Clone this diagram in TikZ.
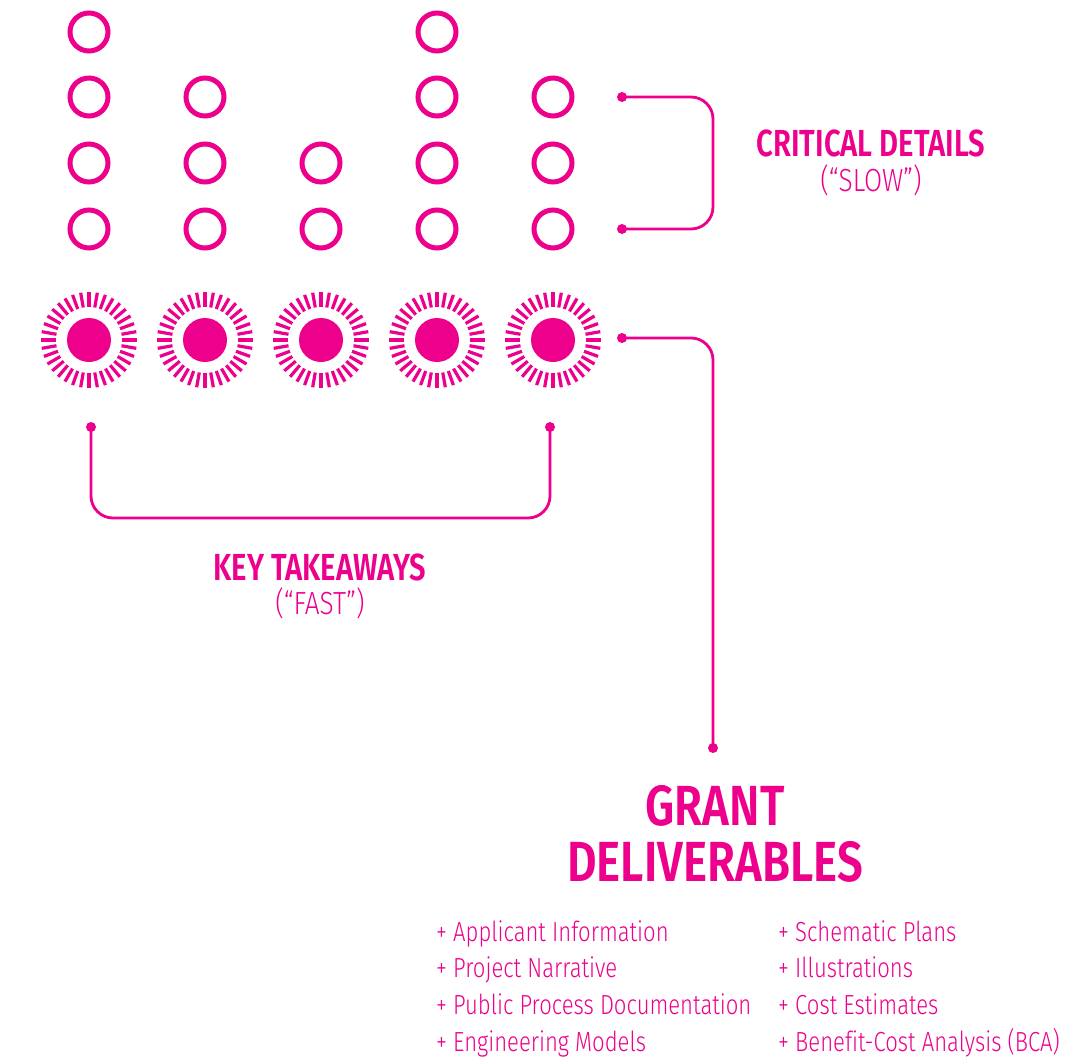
\documentclass[tikz,border=0pt]{standalone}
\usepackage{fontspec}
\setmainfont{Fira Sans}
\newfontfamily\headfont{Fira Sans SemiBold}[FakeStretch=0.775]
\newfontfamily\bigfont{Fira Sans SemiBold}[FakeStretch=0.805]
\newfontfamily\subfont{Fira Sans Light}[FakeStretch=0.82]
\newfontfamily\lightfont{Fira Sans Light}[FakeStretch=0.80,Ligatures=NoCommon]
\definecolor{mag}{HTML}{EC008C}
\begin{document}
\begin{tikzpicture}[x=1pt,y=-1pt,
  ring/.style={circle,draw=mag,line width=5pt,minimum size=38pt,inner sep=0pt},
  core/.style={circle,fill=mag,minimum size=44pt,inner sep=0pt},
  ray/.style={draw=mag,line width=3.2pt},
  dotn/.style={circle,fill=mag,minimum size=10pt,inner sep=0pt},
  conn/.style={draw=mag,line width=2.8pt,rounded corners=22pt},
  head/.style={text=mag,inner sep=0pt,anchor=base,font=\headfont\fontsize{37.7}{40}\selectfont},
  sub/.style={text=mag,inner sep=0pt,anchor=base,font=\subfont\fontsize{32}{34}\selectfont},
  big/.style={text=mag,inner sep=0pt,anchor=base,font=\bigfont\fontsize{56.6}{60}\selectfont},
  item/.style={text=mag,inner sep=0pt,anchor=base west,font=\lightfont\fontsize{27.6}{30}\selectfont}]
\useasboundingbox (0,0) rectangle (1070,1062);
% outline circles
\node[ring] (r11) at (89,32) {};
\node[ring] (r12) at (89,97) {};
\node[ring] (r13) at (89,163) {};
\node[ring] (r14) at (89,229) {};
\node[ring] (r22) at (205,97) {};
\node[ring] (r23) at (205,163) {};
\node[ring] (r24) at (205,229) {};
\node[ring] (r33) at (321,163) {};
\node[ring] (r34) at (321,229) {};
\node[ring] (r41) at (437,32) {};
\node[ring] (r42) at (437,97) {};
\node[ring] (r43) at (437,163) {};
\node[ring] (r44) at (437,229) {};
\node[ring] (r52) at (553,97) {};
\node[ring] (r53) at (553,163) {};
\node[ring] (r54) at (553,229) {};
% suns
\node[core] (s1) at (89,340) {};
\node[core] (s2) at (205,340) {};
\node[core] (s3) at (321,340) {};
\node[core] (s4) at (437,340) {};
\node[core] (s5) at (553,340) {};
\foreach \s in {s1,s2,s3,s4,s5}
  \foreach \a in {0,10,...,350}
    \draw[ray] (\s) ++(\a:33) -- ++(\a:15);
% brackets
\node[dotn] (d1) at (622,97) {};
\node[dotn] (d2) at (622,229) {};
\coordinate (b1) at (713,163);
\draw[conn] (d1.center) -| (b1) |- (d2.center);
\node[dotn] (d3) at (622,338) {};
\node[dotn] (d4) at (713,748) {};
\draw[conn] (d3.center) -| (d4.center);
\node[dotn] (d5) at (91,427) {};
\node[dotn] (d6) at (550,427) {};
\coordinate (b3) at (320,518);
\draw[conn] (d5.center) |- (b3) -| (d6.center);
% labels
\node[head] (crit) at (871,157) {CRITICAL DETAILS};
\node[sub] (slow) at (871,191) {(“SLOW”)};
\node[head] (key) at (320,580) {KEY TAKEAWAYS};
\node[sub] (fast) at (320,614) {(“FAST”)};
\node[big] (grant) at (715,825) {GRANT};
\node[big] (deliv) at (715,881) {DELIVERABLES};
% list
\node[item] (i1) at (436,941) {+ Applicant Information};
\node[item] (i2) at (436,977.5) {+ Project Narrative};
\node[item] (i3) at (436,1014) {+ Public Process Documentation};
\node[item] (i4) at (436,1051) {+ Engineering Models};
\node[item] (j1) at (778,941) {+ Schematic Plans};
\node[item] (j2) at (778,977.5) {+ Illustrations};
\node[item] (j3) at (778,1014) {+ Cost Estimates};
\node[item] (j4) at (778,1051) {+ Benefit-Cost Analysis (BCA)};
\end{tikzpicture}
\end{document}
